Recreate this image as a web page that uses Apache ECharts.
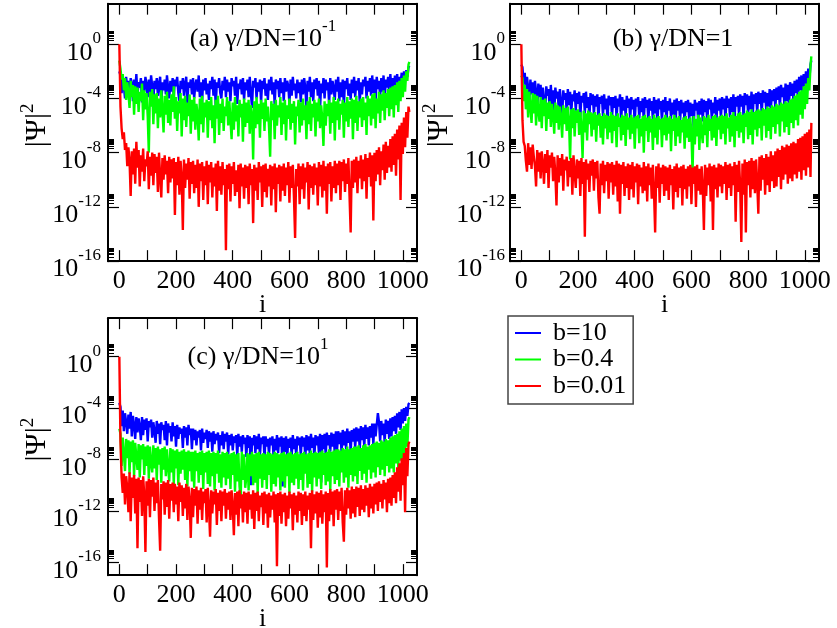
<!DOCTYPE html>
<html>
<head>
<meta charset="utf-8">
<script src="https://cdn.jsdelivr.net/npm/echarts@6.0.0/dist/echarts.min.js"></script>
<style>
  html, body { margin: 0; padding: 0; background: #fff; }
  #chart { width: 837px; height: 628px; }
</style>
</head>
<body>
<div id="chart"></div>
<script>
const FONT = 'Liberation Serif';

// Site index i: every 4th site of the chain, the last value belongs to site 1023.
const SITE_STEP = 4;
const LAST_SITE = 1023;

const seriesNames = ['b=10', 'b=0.4', 'b=0.01'];
const seriesColors = ['#0000ff', '#00ff00', '#ff0000'];

// log10 |Psi|^2, panel (a) gamma/DN = 1e-1
const expA_b10 = [
  -2.0, -2.3, -3.6, -2.6, -3.1, -4.0, -2.4, -3.3, -2.7, -3.8, -2.5, -2.9, -4.2, -2.6, -3.4, -2.2,
  -3.7, -2.8, -3.2, -2.5, -4.3, -2.7, -3.5, -2.4, -3.0, -3.9, -2.6, -3.6, -2.3, -3.1, -4.1, -2.7,
  -3.3, -2.5, -3.8, -2.9, -2.4, -4.5, -2.8, -3.4, -2.6, -3.7, -2.3, -3.2, -4.0, -2.7, -3.5, -2.5,
  -3.9, -2.6, -3.1, -2.4, -3.6, -4.2, -2.7, -3.3, -2.5, -3.8, -2.9, -2.4, -4.4, -2.8, -3.2, -2.6,
  -3.7, -2.5, -4.0, -3.0, -2.6, -3.5, -2.3, -3.9, -2.8, -4.3, -2.6, -3.4, -2.5, -3.7, -2.9, -4.1,
  -2.7, -3.3, -2.4, -3.8, -2.6, -4.6, -2.8, -3.2, -2.5, -3.6, -4.0, -2.7, -3.4, -2.4, -3.9, -2.6,
  -3.5, -2.8, -4.2, -2.5, -3.1, -2.7, -3.8, -2.4, -4.4, -2.9, -3.3, -2.6, -3.7, -2.5, -4.1, -2.8,
  -3.4, -2.6, -3.9, -2.4, -3.6, -4.7, -2.7, -3.2, -2.5, -4.0, -2.8, -3.5, -2.6, -4.3, -2.7, -3.3,
  -2.5, -3.8, -2.9, -4.1, -2.6, -3.4, -2.4, -3.7, -2.8, -4.5, -2.6, -3.3, -2.7, -3.9, -2.5, -3.6,
  -2.8, -4.2, -2.5, -3.5, -2.7, -3.1, -4.4, -2.6, -3.8, -2.4, -3.4, -2.9, -4.0, -2.6, -3.6, -2.8,
  -4.3, -2.6, -3.7, -2.5, -3.2, -4.6, -2.7, -3.5, -2.4, -3.9, -2.8, -4.2, -2.6, -3.3, -2.5, -3.8,
  -2.7, -4.8, -2.9, -3.6, -2.5, -4.0, -2.6, -3.4, -2.8, -4.4, -2.5, -3.7, -2.7, -3.2, -4.1, -2.6,
  -3.5, -2.4, -4.2, -2.8, -3.9, -2.6, -4.6, -2.7, -3.3, -2.5, -3.8, -2.9, -4.1, -2.6, -3.6, -2.4,
  -3.9, -2.7, -3.4, -2.5, -4.3, -2.8, -3.7, -2.6, -3.1, -2.4, -4.0, -2.7, -3.5, -2.5, -3.8, -2.3,
  -3.6, -2.6, -4.2, -2.4, -3.3, -2.7, -3.9, -2.5, -3.5, -2.3, -4.1, -2.6, -3.2, -2.4, -3.7, -2.2,
  -3.4, -2.5, -3.9, -2.3, -3.1, -2.2, -3.6, -2.4, -2.9, -2.1, -3.3, -2.0, -2.7, -1.9, -2.4, -1.7,
  -1.6
];
const expA_b04 = [
  -1.2, -1.8, -2.6, -2.2, -3.4, -2.5, -4.1, -2.8, -3.6, -4.7, -2.7, -3.9, -3.0, -5.2, -3.1, -4.4,
  -3.2, -5.0, -3.5, -4.2, -2.9, -5.6, -3.4, -4.8, -3.6, -5.3, -8.0, -3.5, -4.6, -3.3, -5.9, -3.7,
  -5.1, -3.6, -6.2, -4.0, -5.4, -3.4, -4.9, -6.5, -3.8, -5.2, -3.5, -5.8, -4.1, -6.0, -3.7, -5.0,
  -3.1, -5.5, -3.9, -6.4, -4.2, -5.1, -3.6, -6.8, -4.0, -5.6, -3.8, -6.1, -4.3, -5.3, -3.7, -6.6,
  -4.1, -5.7, -3.9, -6.3, -4.4, -5.2, -7.1, -4.0, -5.9, -3.8, -6.5, -4.3, -5.4, -4.1, -6.9, -4.2,
  -5.6, -3.9, -6.2, -4.5, -7.3, -4.1, -5.5, -3.8, -6.7, -4.4, -5.8, -4.0, -6.4, -4.6, -5.3, -3.9,
  -6.0, -4.2, -5.6, -7.0, -4.3, -6.3, -3.9, -5.7, -4.5, -6.8, -4.1, -5.4, -4.4, -7.2, -4.0, -6.1,
  -4.3, -5.8, -4.1, -6.6, -4.5, -5.2, -8.5, -4.2, -6.2, -3.9, -5.9, -4.4, -6.9, -4.1, -5.5, -4.3,
  -6.4, -4.0, -5.7, -4.6, -6.1, -8.3, -4.2, -5.6, -4.4, -7.0, -4.1, -6.0, -4.5, -5.4, -3.9, -6.7,
  -4.3, -5.9, -4.1, -7.1, -4.5, -5.5, -4.0, -6.3, -4.4, -5.8, -4.2, -7.4, -4.6, -5.3, -4.1, -6.5,
  -4.3, -6.0, -4.0, -5.6, -4.5, -7.0, -4.2, -5.9, -3.9, -6.4, -4.4, -5.4, -4.1, -6.8, -4.3, -5.7,
  -4.0, -6.2, -4.5, -5.5, -7.5, -4.2, -6.0, -4.4, -5.3, -4.1, -6.6, -4.3, -5.8, -3.9, -7.1, -4.2,
  -5.6, -4.0, -6.3, -4.4, -5.2, -4.1, -6.9, -4.3, -5.7, -3.9, -6.1, -4.2, -5.5, -4.0, -7.0, -4.1,
  -5.8, -3.8, -6.4, -4.2, -5.4, -4.0, -6.1, -3.9, -5.6, -4.3, -6.7, -3.8, -5.3, -4.0, -6.0, -3.7,
  -5.5, -3.6, -6.2, -4.0, -5.1, -3.5, -5.8, -3.7, -4.9, -3.4, -5.6, -3.6, -4.7, -3.3, -5.3, -3.2,
  -4.8, -3.1, -5.4, -3.0, -4.5, -2.8, -5.0, -2.7, -4.2, -2.5, -3.9, -2.3, -3.5, -2.0, -2.7, -1.5,
  -1.3
];
const expA_b001 = [
   0.0, -4.6, -6.2, -7.0, -6.5, -7.8, -7.3, -9.0, -7.6, -8.6, -11.2, -7.9, -9.6, -7.7, -10.3, -7.2,
  -9.1, -7.8, -10.5, -8.2, -9.4, -7.7, -10.1, -8.5, -9.0, -7.9, -10.7, -8.3, -9.7, -8.0, -10.4, -8.1,
  -9.5, -8.3, -10.9, -8.0, -9.8, -11.3, -8.4, -10.0, -8.2, -9.6, -8.6, -11.0, -8.3, -10.2, -8.5, -9.9,
  -8.4, -12.6, -8.7, -10.4, -8.3, -11.1, -8.6, -9.8, -13.7, -8.5, -10.6, -8.8, -10.0, -8.4, -11.4, -8.7,
  -10.3, -8.6, -11.0, -8.9, -10.6, -8.5, -12.0, -8.8, -10.1, -8.7, -11.5, -9.0, -10.4, -8.6, -11.8, -8.9,
  -10.2, -8.7, -11.3, -9.1, -10.5, -8.8, -12.3, -8.6, -10.8, -9.0, -11.1, -8.7, -10.4, -9.2, -15.2, -8.9,
  -10.7, -8.8, -11.6, -9.0, -10.3, -8.7, -11.2, -9.3, -10.9, -8.9, -12.1, -8.8, -10.5, -9.1, -11.4, -8.9,
  -10.6, -9.0, -11.8, -8.8, -10.4, -9.2, -13.2, -8.9, -10.8, -9.1, -11.5, -8.7, -10.2, -9.0, -12.0, -8.9,
  -10.9, -8.8, -11.3, -9.2, -10.5, -8.9, -11.9, -9.0, -10.7, -8.8, -12.4, -9.1, -10.3, -8.9, -11.6, -9.0,
  -10.8, -8.8, -11.2, -9.1, -10.4, -8.7, -11.7, -9.0, -10.6, -8.9, -11.3, -14.3, -9.2, -10.5, -8.8, -11.8,
  -9.0, -10.7, -8.8, -11.4, -9.1, -10.2, -8.7, -12.2, -8.9, -10.6, -9.0, -11.1, -8.8, -10.4, -9.1, -11.9,
  -8.7, -10.5, -8.9, -11.3, -8.6, -10.8, -9.0, -12.5, -8.8, -10.3, -8.7, -11.6, -9.0, -10.6, -8.6, -11.0,
  -8.8, -10.4, -8.6, -11.5, -8.7, -10.1, -8.5, -10.9, -8.8, -10.3, -8.4, -11.2, -13.9, -8.6, -10.6, -8.5,
  -10.2, -8.3, -11.0, -8.6, -9.9, -8.2, -10.7, -8.5, -10.1, -8.1, -11.4, -8.4, -9.8, -8.0, -10.5, -8.2,
  -13.0, -8.0, -10.1, -7.8, -9.6, -7.6, -10.4, -7.9, -9.3, -7.4, -10.0, -7.2, -9.5, -7.5, -9.1, -7.0,
  -9.4, -6.8, -8.9, -6.6, -9.7, -6.3, -8.5, -6.0, -11.5, -5.8, -8.1, -5.4, -7.6, -5.0, -6.9, -4.6,
  -5.0
];

// panel (b) gamma/DN = 1
const expB_b10 = [
  -1.5, -1.7, -2.9, -2.1, -3.5, -2.4, -3.2, -4.1, -2.6, -3.7, -2.8, -4.4, -2.7, -3.5, -4.6, -2.9,
  -3.9, -3.0, -4.7, -3.2, -4.2, -5.0, -3.1, -3.8, -3.3, -4.9, -3.0, -4.4, -3.4, -5.1, -3.2, -4.0,
  -3.5, -4.8, -3.3, -4.3, -5.3, -3.4, -4.1, -3.6, -5.0, -3.3, -4.5, -3.5, -5.2, -3.7, -4.2, -3.4,
  -4.9, -3.6, -4.4, -3.5, -5.4, -3.8, -4.3, -3.6, -5.1, -3.5, -4.7, -3.9, -5.5, -3.6, -4.5, -3.7,
  -5.2, -3.8, -4.6, -3.7, -5.6, -3.9, -4.4, -3.8, -5.3, -3.7, -4.8, -4.0, -5.7, -3.8, -4.5, -3.9,
  -5.4, -3.9, -4.7, -3.8, -5.5, -4.0, -4.6, -3.7, -5.8, -3.9, -4.9, -4.1, -5.3, -3.8, -4.7, -4.0,
  -5.6, -3.9, -4.8, -4.1, -5.9, -4.0, -4.6, -3.9, -5.5, -4.2, -5.0, -4.0, -5.8, -3.9, -4.7, -4.1,
  -5.7, -4.0, -4.9, -4.2, -5.6, -3.9, -5.1, -4.1, -6.0, -4.0, -4.8, -4.2, -5.7, -4.1, -5.0, -3.9,
  -5.8, -4.2, -4.9, -4.0, -5.5, -4.3, -5.2, -4.1, -6.1, -4.0, -4.9, -4.2, -5.7, -4.1, -5.1, -4.3,
  -5.9, -4.2, -5.0, -4.1, -5.6, -4.3, -5.3, -4.4, -6.2, -4.1, -4.9, -4.3, -5.8, -4.2, -5.2, -4.0,
  -5.7, -4.1, -5.0, -4.2, -5.9, -4.0, -4.8, -4.1, -5.6, -4.3, -5.1, -3.9, -5.8, -4.1, -4.9, -4.0,
  -5.5, -3.9, -4.8, -4.0, -5.7, -3.8, -4.7, -4.0, -5.4, -3.9, -5.0, -3.7, -5.6, -3.9, -4.6, -3.8,
  -5.3, -3.7, -4.6, -3.8, -5.5, -3.6, -4.5, -3.7, -5.2, -3.8, -4.8, -3.5, -5.4, -3.7, -4.4, -3.6,
  -5.1, -3.5, -4.4, -3.6, -5.2, -3.4, -4.3, -3.5, -4.9, -3.6, -4.6, -3.3, -5.0, -3.4, -4.2, -3.3,
  -4.8, -3.2, -4.1, -3.1, -4.7, -3.0, -3.9, -3.2, -4.5, -2.9, -4.2, -3.0, -4.6, -2.8, -3.8, -2.9,
  -4.3, -2.7, -3.6, -2.6, -4.1, -2.4, -3.4, -2.3, -3.8, -2.2, -3.1, -2.0, -3.3, -1.8, -2.6, -1.5,
  -1.2
];
const expB_b04 = [
  -2.3, -2.5, -4.2, -3.0, -4.8, -3.3, -5.4, -3.5, -4.6, -5.8, -3.6, -5.1, -3.7, -6.0, -3.8, -4.9,
  -5.7, -3.9, -6.2, -4.1, -5.3, -4.0, -6.4, -4.3, -5.5, -4.2, -6.1, -4.4, -5.2, -6.6, -4.3, -5.8,
  -4.5, -6.3, -4.6, -5.4, -6.9, -4.5, -5.9, -4.7, -6.4, -4.6, -5.6, -8.5, -4.8, -6.2, -4.7, -6.8,
  -4.9, -5.8, -4.8, -6.7, -5.0, -6.1, -8.4, -4.9, -6.5, -5.1, -7.1, -4.9, -5.9, -5.0, -6.8, -5.1,
  -6.3, -5.0, -7.2, -5.2, -6.0, -5.1, -6.9, -5.3, -7.4, -5.1, -6.2, -5.2, -7.0, -5.3, -6.5, -5.0,
  -7.3, -5.2, -6.4, -5.3, -7.6, -5.1, -6.1, -5.4, -7.1, -5.2, -6.7, -5.3, -7.5, -5.1, -6.3, -5.4,
  -7.0, -5.2, -6.6, -5.4, -7.7, -5.3, -6.2, -5.2, -7.3, -5.5, -6.8, -5.3, -8.0, -5.2, -6.4, -5.4,
  -7.2, -5.3, -6.5, -5.5, -7.8, -5.2, -6.9, -5.4, -7.4, -5.3, -6.3, -5.5, -7.6, -5.4, -6.7, -5.2,
  -7.1, -5.4, -6.6, -5.3, -7.9, -5.5, -6.4, -5.2, -7.5, -5.4, -6.8, -5.3, -7.3, -5.6, -6.5, -5.4,
  -7.7, -5.3, -6.9, -5.5, -7.2, -5.4, -6.6, -9.5, -5.3, -7.4, -5.5, -6.8, -5.2, -7.8, -5.4, -6.5,
  -7.3, -5.3, -6.7, -5.4, -7.6, -5.2, -6.4, -5.5, -7.1, -5.3, -6.9, -5.2, -7.5, -5.4, -6.3, -5.3,
  -7.0, -5.2, -6.6, -5.3, -7.4, -5.1, -6.2, -5.4, -7.2, -5.2, -6.8, -5.0, -7.6, -5.3, -6.4, -5.1,
  -6.9, -5.0, -6.5, -5.2, -7.3, -5.1, -6.1, -4.9, -7.0, -5.0, -6.7, -4.8, -7.4, -5.0, -6.3, -4.9,
  -6.8, -4.8, -6.2, -4.9, -7.1, -4.7, -6.0, -4.8, -6.9, -4.6, -6.4, -4.7, -7.0, -4.5, -6.1, -4.6,
  -6.6, -4.4, -5.9, -4.5, -6.8, -4.3, -5.7, -4.4, -6.5, -4.2, -6.1, -4.3, -6.7, -4.1, -5.8, -4.0,
  -6.2, -3.8, -5.6, -3.7, -6.0, -3.5, -5.2, -3.4, -5.5, -3.1, -4.8, -2.9, -4.4, -2.5, -3.4, -1.6,
  -0.9
];
const expB_b001 = [
   0.0, -5.6, -7.2, -7.5, -8.6, -9.4, -7.3, -8.9, -7.6, -9.2, -7.4, -8.3, -9.0, -10.5, -7.8, -9.4,
  -8.0, -9.9, -7.9, -8.8, -10.3, -8.1, -9.5, -7.8, -10.6, -8.2, -9.1, -8.0, -10.1, -8.3, -9.6, -11.9,
  -8.2, -10.2, -8.4, -9.7, -8.1, -10.8, -8.5, -9.3, -8.3, -10.5, -8.6, -9.8, -8.4, -11.1, -8.2, -9.5,
  -10.6, -8.5, -9.9, -8.6, -11.2, -8.4, -10.3, -8.7, -14.2, -8.5, -10.0, -8.8, -10.9, -8.6, -9.7, -8.5,
  -10.8, -8.7, -9.9, -8.6, -11.3, -12.5, -8.8, -10.4, -8.6, -11.0, -8.9, -10.1, -8.7, -11.4, -8.8, -10.2,
  -8.7, -11.1, -8.9, -10.5, -8.6, -11.6, -8.8, -12.5, -8.9, -10.3, -8.7, -11.2, -9.0, -10.6, -8.8, -11.5,
  -8.9, -10.7, -8.7, -11.3, -9.0, -10.2, -8.8, -11.8, -8.9, -10.5, -9.1, -11.0, -8.7, -10.8, -9.0, -11.6,
  -8.8, -10.4, -9.1, -11.4, -8.9, -10.9, -13.9, -9.0, -10.6, -8.8, -11.7, -9.1, -10.3, -8.9, -11.2, -9.0,
  -10.8, -9.1, -11.5, -8.9, -10.4, -9.2, -12.2, -9.0, -10.9, -8.8, -11.3, -9.1, -10.6, -9.0, -11.9, -8.9,
  -10.7, -9.2, -11.4, -9.0, -10.5, -8.9, -11.8, -9.1, -10.3, -9.0, -12.0, -8.9, -10.8, -9.2, -11.1, -9.0,
  -10.6, -13.7, -8.9, -11.2, -9.1, -10.4, -8.8, -11.6, -9.0, -13.7, -8.9, -10.7, -9.1, -11.3, -8.8, -10.5,
  -8.9, -11.0, -9.0, -10.3, -8.7, -11.5, -8.9, -10.6, -8.8, -11.2, -9.0, -10.4, -8.7, -13.1, -8.9, -10.9,
  -8.6, -10.5, -14.6, -8.8, -11.1, -8.5, -13.9, -8.7, -10.4, -8.6, -11.3, -8.4, -10.7, -8.6, -11.0, -8.5,
  -10.2, -12.5, -8.3, -10.8, -8.2, -10.0, -8.4, -11.1, -8.1, -10.4, -8.3, -10.9, -7.9, -10.1, -8.2, -10.6,
  -7.9, -10.5, -7.7, -9.8, -7.8, -10.7, -7.5, -10.0, -7.6, -9.6, -7.4, -10.3, -7.5, -9.9, -7.3, -10.1,
  -7.2, -9.6, -7.3, -9.9, -7.0, -9.4, -6.9, -10.0, -6.8, -9.3, -6.6, -9.7, -6.5, -9.1, -6.3, -9.8,
  -5.8
];

// panel (c) gamma/DN = 1e1
const expC_b10 = [
  -3.6, -3.9, -5.4, -4.2, -5.8, -4.4, -5.1, -6.0, -4.5, -5.6, -4.3, -6.2, -4.6, -5.3, -6.4, -4.7,
  -5.9, -4.8, -5.4, -6.5, -4.7, -6.1, -4.9, -5.7, -4.8, -6.6, -5.0, -5.5, -4.9, -6.3, -5.1, -5.8,
  -6.7, -5.0, -6.0, -5.2, -6.8, -5.1, -5.7, -5.3, -6.5, -5.0, -6.9, -5.2, -5.9, -5.4, -6.6, -5.1,
  -6.2, -5.4, -7.0, -5.3, -6.4, -5.5, -6.0, -5.6, -7.1, -5.4, -6.3, -5.5, -6.9, -5.3, -6.1, -5.6,
  -7.2, -5.6, -6.5, -5.7, -6.9, -5.8, -6.3, -5.7, -7.3, -5.6, -6.7, -5.9, -6.4, -5.7, -7.1, -5.8,
  -6.6, -5.9, -7.4, -5.8, -6.8, -6.0, -6.5, -5.9, -7.5, -6.1, -6.9, -5.8, -7.2, -6.0, -6.6, -5.9,
  -7.6, -6.1, -6.9, -6.0, -7.3, -6.2, -6.7, -6.1, -7.7, -6.0, -7.0, -6.2, -7.4, -6.1, -6.8, -6.3,
  -7.8, -6.1, -7.1, -6.2, -10.0, -6.3, -6.9, -6.1, -7.5, -6.2, -7.2, -6.0, -7.7, -6.3, -6.8, -6.2,
  -7.9, -6.2, -7.0, -6.4, -7.6, -6.3, -6.9, -6.2, -7.8, -6.4, -7.3, -6.1, -7.5, -6.3, -7.0, -6.2,
  -10.1, -6.3, -7.4, -6.2, -7.9, -6.4, -7.1, -6.3, -7.7, -6.1, -7.2, -6.4, -7.8, -6.2, -6.9, -6.3,
  -7.7, -6.2, -7.0, -6.3, -7.9, -6.1, -7.3, -6.2, -7.6, -6.0, -7.1, -6.3, -7.8, -6.1, -6.9, -6.2,
  -7.5, -6.0, -9.8, -6.1, -7.2, -6.0, -7.7, -5.9, -6.9, -6.1, -7.4, -5.9, -7.0, -6.0, -7.6, -5.8,
  -7.3, -5.8, -6.8, -5.9, -7.5, -5.7, -6.9, -5.8, -7.2, -5.6, -6.7, -5.8, -7.4, -5.7, -6.6, -5.6,
  -7.1, -5.5, -6.6, -5.6, -7.2, -5.4, -6.5, -5.5, -7.0, -5.3, -6.4, -5.5, -6.9, -5.4, -6.3, -5.2,
  -6.8, -5.2, -6.2, -5.3, -4.4, -5.1, -6.6, -5.0, -6.1, -5.2, -6.7, -4.9, -6.0, -5.0, -6.4, -4.8,
  -6.2, -4.7, -5.8, -4.6, -6.0, -4.4, -5.5, -4.3, -5.7, -4.1, -5.2, -4.0, -5.0, -3.9, -4.6, -3.7,
  -3.6
];
const expC_b04 = [
  -5.6, -6.0, -8.5, -6.3, -7.6, -8.9, -6.4, -7.9, -6.5, -9.1, -6.6, -8.2, -6.5, -9.3, -6.7, -7.8,
  -8.8, -6.8, -9.4, -6.9, -8.0, -6.8, -9.2, -7.0, -8.5, -6.9, -9.5, -7.0, -8.3, -9.0, -6.9, -8.7,
  -7.1, -9.6, -7.0, -8.4, -7.2, -9.8, -7.1, -8.8, -7.0, -9.3, -7.2, -8.6, -9.7, -7.1, -9.0, -7.2,
  -9.9, -7.3, -8.7, -7.2, -10.0, -7.4, -9.1, -7.3, -8.8, -7.2, -9.6, -7.4, -10.1, -7.3, -8.9, -7.4,
  -9.7, -7.4, -10.2, -7.3, -8.9, -7.5, -9.8, -7.4, -9.2, -7.3, -10.3, -7.5, -9.0, -7.4, -9.9, -7.3,
  -10.1, -7.5, -9.3, -7.4, -10.4, -7.5, -9.1, -7.3, -9.8, -7.6, -10.2, -7.4, -9.4, -7.5, -10.0, -7.4,
  -9.5, -7.6, -10.3, -7.5, -9.2, -7.4, -10.5, -7.6, -9.7, -7.5, -10.1, -11.1, -7.4, -9.6, -7.6, -10.2,
  -9.4, -7.5, -10.4, -7.6, -9.3, -7.4, -10.0, -7.6, -9.8, -7.5, -10.6, -7.4, -9.5, -7.6, -10.2, -7.5,
  -9.6, -7.6, -10.3, -7.4, -9.2, -7.5, -10.5, -7.6, -9.9, -7.4, -10.1, -7.5, -9.4, -7.6, -10.4, -7.5,
  -9.7, -7.4, -10.2, -7.6, -9.3, -7.5, -10.6, -7.4, -9.8, -7.6, -10.0, -7.5, -9.5, -7.4, -10.3, -7.6,
  -9.6, -7.5, -10.4, -7.4, -9.1, -7.6, -10.2, -7.5, -9.9, -7.3, -10.5, -7.5, -9.4, -7.4, -10.1, -7.5,
  -9.5, -7.4, -10.3, -7.3, -9.2, -7.5, -10.0, -7.4, -9.7, -7.2, -10.4, -7.4, -9.3, -7.3, -9.9, -7.2,
  -9.6, -7.2, -10.1, -7.3, -9.0, -7.1, -9.8, -7.2, -9.4, -7.0, -10.2, -7.2, -9.2, -7.1, -9.7, -7.0,
  -9.3, -7.0, -9.9, -6.9, -8.9, -7.1, -9.6, -6.9, -9.1, -6.8, -9.8, -7.0, -8.8, -6.9, -9.5, -6.8,
  -9.0, -6.7, -9.4, -6.6, -8.6, -6.7, -9.2, -6.5, -8.8, -6.6, -9.3, -6.4, -8.5, -6.5, -9.0, -6.3,
  -8.7, -6.2, -9.0, -6.1, -8.3, -6.0, -8.7, -5.8, -8.1, -5.6, -8.4, -5.4, -7.6, -5.2, -7.0, -4.9,
  -4.7
];
const expC_b001 = [
   0.0, -6.6, -9.4, -10.6, -9.1, -11.5, -9.3, -10.2, -12.1, -9.0, -12.8, -9.4, -11.0, -9.2, -12.2, -9.5,
  -14.9, -9.4, -11.3, -9.6, -12.4, -9.3, -10.8, -15.2, -9.7, -11.6, -9.5, -12.5, -9.6, -10.9, -9.4, -12.0,
  -9.8, -11.4, -9.6, -12.6, -15.1, -9.9, -11.1, -9.7, -12.3, -9.8, -11.7, -9.6, -12.6, -9.9, -11.2, -9.8,
  -12.1, -9.9, -11.5, -10.1, -12.8, -9.8, -11.3, -10.0, -12.4, -10.2, -11.8, -9.9, -12.7, -10.1, -11.2, -14.1,
  -10.2, -12.5, -10.3, -11.6, -10.1, -13.0, -10.4, -11.9, -10.2, -12.7, -10.5, -11.4, -10.3, -12.9, -10.2, -11.7,
  -14.0, -10.4, -12.2, -10.5, -11.5, -10.3, -13.1, -10.6, -12.0, -10.4, -12.8, -10.5, -11.6, -10.3, -12.6, -10.6,
  -11.9, -10.5, -12.7, -10.4, -11.6, -13.9, -10.6, -12.3, -10.5, -13.2, -10.4, -11.8, -10.7, -12.9, -10.5, -12.1,
  -10.6, -13.0, -10.5, -11.9, -10.7, -12.6, -10.4, -13.4, -10.6, -12.0, -10.5, -12.8, -10.8, -11.7, -10.6, -13.1,
  -10.5, -12.2, -10.7, -13.3, -10.6, -12.5, -10.8, -11.9, -10.5, -12.9, -10.7, -16.3, -10.6, -12.4, -10.5, -13.0,
  -10.7, -12.1, -10.6, -13.2, -10.8, -12.6, -10.5, -11.8, -10.7, -13.5, -10.6, -12.3, -10.8, -12.9, -10.5, -12.0,
  -10.6, -13.1, -10.7, -12.4, -10.5, -12.8, -10.8, -11.9, -10.6, -14.9, -10.4, -12.7, -10.7, -12.2, -10.5, -13.3,
  -10.6, -12.5, -10.4, -13.0, -10.7, -12.1, -10.5, -16.4, -10.6, -12.8, -10.3, -12.3, -10.5, -13.2, -10.4, -11.9,
  -10.3, -12.7, -10.5, -12.0, -10.2, -12.9, -14.4, -10.4, -12.3, -10.2, -11.8, -10.4, -12.6, -10.1, -12.2, -10.3,
  -12.5, -10.1, -11.7, -10.2, -12.4, -10.0, -11.9, -10.3, -12.1, -10.0, -11.6, -10.2, -12.5, -9.9, -11.8, -10.1,
  -12.2, -9.9, -11.5, -9.8, -12.0, -9.7, -11.3, -9.9, -11.8, -9.6, -11.1, -9.8, -12.1, -9.5, -11.4, -9.4,
  -11.6, -9.2, -11.0, -9.0, -11.4, -8.6, -10.5, -8.3, -11.2, -7.9, -10.0, -7.5, -12.1, -7.1, -9.3, -6.8,
  -6.6
];

// Axis ticks and labels
const yTickValues = [1e-16, 1e-12, 1e-8, 1e-4, 1];
const xTickValues = [0, 100, 200, 300, 400, 500, 600, 700, 800, 900, 1000];
const xLabelValues = [0, 200, 400, 600, 800, 1000];
// fine ticks k*10^n (k = 2..9) just above each labelled decade
const yMinorValues = [];
yTickValues.forEach(v => { for (let k = 2; k <= 9; k++) yMinorValues.push(k * v); });

const panels = [
  { left: 108, top: 3.65, height: 257.5, yMin: 9.8e-17, labelMargin: 7,
    titleX: 263, titleY: 22, title: '{b|(a) γ/DN=10}{s|-1}',
    exps: [expA_b10, expA_b04, expA_b001] },
  { left: 510, top: 3.65, height: 257.5, yMin: 9.8e-17, labelMargin: 5,
    titleX: 673, titleY: 22, title: '{b|(b) γ/DN=1}',
    exps: [expB_b10, expB_b04, expB_b001] },
  { left: 108, top: 318.15, height: 257, yMin: 1e-17, labelMargin: 7,
    titleX: 258, titleY: 339.7, title: '{b|(c) γ/DN=10}{s|1}',
    exps: [expC_b10, expC_b04, expC_b001] }
];

// base text plus a raised exponent; both tokens share one line height,
// the exponent is lifted by bottom padding
const supRich = (size, lh, supSize, lift) => ({
  b: { fontFamily: FONT, fontSize: size, fontWeight: 'normal', lineHeight: lh, color: '#000' },
  s: { fontFamily: FONT, fontSize: supSize, fontWeight: 'normal', lineHeight: lh, color: '#000',
       padding: [0, 0, 2 * lift, 0] }
});

const grid = [], xAxis = [], yAxis = [], series = [], title = [];

panels.forEach((p, g) => {
  grid.push({ left: p.left, top: p.top, width: 309, height: p.height,
    containLabel: false, outerBoundsMode: 'none' });

  const xBase = {
    type: 'value', gridIndex: g, min: -40, max: 1050,
    splitLine: { show: false },
    axisLine: { show: true, onZero: false, lineStyle: { color: '#000', width: 2 } },
    axisTick: { show: true, inside: true, length: 11, customValues: xTickValues,
      lineStyle: { color: '#000', width: 1.2 } },
    axisLabel: { show: false }
  };
  xAxis.push(Object.assign({}, xBase, {
    position: 'bottom',
    axisLabel: { show: true, customValues: xLabelValues, margin: 7, color: '#000',
      fontFamily: FONT, fontSize: 26, formatter: v => String(v) },
    name: 'i', nameLocation: 'middle', nameGap: 31, nameMoveOverlap: false,
    nameTextStyle: { fontFamily: FONT, fontSize: 26, color: '#000', lineHeight: 26 }
  }));
  xAxis.push(Object.assign({}, xBase, { position: 'top' }));

  const yBase = {
    type: 'log', logBase: 10, gridIndex: g, min: p.yMin, max: 1e3,
    splitLine: { show: false }, minorTick: { show: false }, minorSplitLine: { show: false },
    axisLine: { show: true, onZero: false, lineStyle: { color: '#000', width: 2 } },
    axisLabel: { show: false }
  };
  const majorTick = { show: true, inside: true, length: 11, customValues: yTickValues,
    lineStyle: { color: '#000', width: 1.2 } };
  const fineTick = { show: true, inside: true, length: 6, customValues: yMinorValues,
    lineStyle: { color: '#000', width: 1 } };

  yAxis.push(Object.assign({}, yBase, {
    position: 'left', axisTick: majorTick,
    axisLabel: {
      show: true, customValues: yTickValues, margin: p.labelMargin,
      padding: [17, 0, 0, 0],
      formatter: v => '{b|10}{s|' + Math.round(Math.log10(v)) + '}',
      rich: supRich(26, 30, 17, 14)
    },
    name: '{b||Ψ|}{s|2}', nameLocation: 'middle', nameRotate: 90, nameGap: 54,
    nameMoveOverlap: false,
    nameTextStyle: { padding: [0, 0, 0, 14], rich: supRich(30, 34, 19, 9) }
  }));
  yAxis.push(Object.assign({}, yBase, { position: 'right', axisTick: majorTick }));
  yAxis.push(Object.assign({}, yBase, { position: 'left', axisLine: { show: false, onZero: false }, axisTick: fineTick }));
  yAxis.push(Object.assign({}, yBase, { position: 'right', axisLine: { show: false, onZero: false }, axisTick: fineTick }));

  title.push({
    text: p.title, left: p.titleX, top: p.titleY, textAlign: 'center', padding: 0,
    textStyle: { fontWeight: 'normal', rich: supRich(26, 34, 17, 12) }
  });

  p.exps.forEach((arr, s) => {
    series.push({
      type: 'line', name: seriesNames[s],
      xAxisIndex: 2 * g, yAxisIndex: 4 * g,
      data: arr.map((e, k) => [k === arr.length - 1 ? LAST_SITE : k * SITE_STEP, Math.pow(10, e)]),
      symbol: 'none', showSymbol: false,
      lineStyle: { color: seriesColors[s], width: 2.4 },
      itemStyle: { color: seriesColors[s] },
      silent: true, z: 2 + s
    });
  });
});

const chart = echarts.init(document.getElementById('chart'), null, { renderer: 'canvas' });
chart.setOption({
  animation: false,
  backgroundColor: '#fff',
  title: title,
  grid: grid,
  xAxis: xAxis,
  yAxis: yAxis,
  legend: {
    data: seriesNames, orient: 'vertical', left: 508, top: 316,
    icon: 'rect', itemWidth: 26, itemHeight: 2, itemGap: 0.5,
    padding: [4, 7, 5, 7],
    borderColor: '#444', borderWidth: 1.5, backgroundColor: '#fff',
    selectedMode: false,
    textStyle: { fontFamily: FONT, fontSize: 26, color: '#000', lineHeight: 24, padding: [0, 0, 0, 7] }
  },
  series: series
});
</script>
</body>
</html>
